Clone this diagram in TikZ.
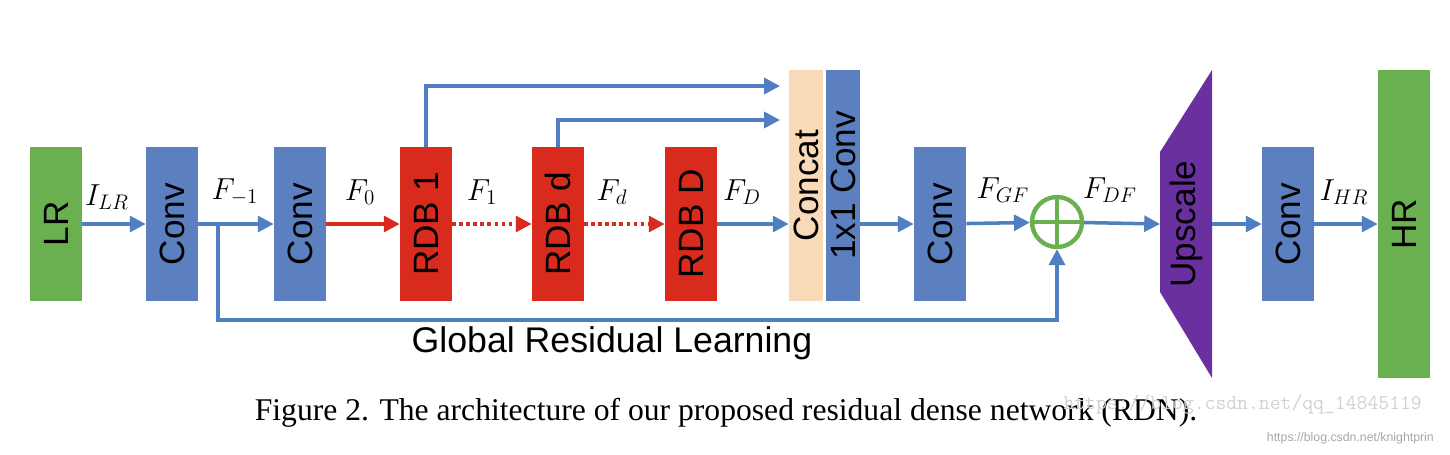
\documentclass[tikz,border=0pt]{standalone}
\usepackage{fontspec}
\setmainfont{Liberation Serif}
\newfontfamily\sansf{Liberation Sans}
\usetikzlibrary{arrows.meta}
\definecolor{cblue}{HTML}{5B7FBF}
\definecolor{cgreen}{HTML}{6AAF50}
\definecolor{cred}{HTML}{D92A1E}
\definecolor{cbeige}{HTML}{F8D9B8}
\definecolor{cpurple}{HTML}{6B30A0}
\definecolor{arr}{HTML}{4F7FC0}
\begin{document}
\begin{tikzpicture}[x=0.02cm,y=-0.02cm,
 blk/.style={draw=none,minimum width=1.04cm,minimum height=3.08cm,inner sep=0pt,font=\sansf\fontsize{20}{21}\selectfont},
 con/.style={arr,line width=2pt,-{Triangle[length=9pt,width=9pt]}},
 redc/.style={cred,line width=2pt,-{Triangle[length=9pt,width=9pt]}},
 lab/.style={font=\fontsize{18.5}{19}\selectfont}]
\useasboundingbox (0,0) rectangle (1450,454);
\node[blk,fill=cgreen] (lr) at (56,224) {\rotatebox{90}{LR}};
\node[blk,fill=cblue] (c1) at (172,224) {\rotatebox{90}{Conv}};
\node[blk,fill=cblue] (c2) at (300,224) {\rotatebox{90}{Conv}};
\node[blk,fill=cred] (r1) at (426,224) {\rotatebox{90}{RDB 1}};
\node[blk,fill=cred] (rd) at (558,224) {\rotatebox{90}{RDB d}};
\node[blk,fill=cred] (rD) at (691,224) {\rotatebox{90}{RDB D}};
\node[blk,fill=cbeige,minimum width=0.68cm,minimum height=4.62cm] (cat) at (806,185.5) {\rotatebox{90}{Concat}};
\node[blk,fill=cblue,minimum width=0.68cm,minimum height=4.62cm] (c11) at (843,185.5) {\rotatebox{90}{1x1 Conv}};
\node[blk,fill=cblue] (c3) at (940,224) {\rotatebox{90}{Conv}};
\node[circle,draw=cgreen,line width=2.5pt,minimum size=1.0cm,inner sep=0pt] (plus) at (1057,222) {};
\draw[cgreen,line width=2.5pt] (plus.north)--(plus.south) (plus.west)--(plus.east);
\fill[cpurple] (1160,152)--(1212,70)--(1212,378)--(1160,292)--cycle;
\node[font=\sansf\fontsize{20}{21}\selectfont,inner sep=0pt] (up) at (1186,224) {\rotatebox{90}{Upscale}};
\coordinate (upL) at (1160,224); \coordinate (upR) at (1212,224);
\node[blk,fill=cblue] (c4) at (1288,224) {\rotatebox{90}{Conv}};
\node[blk,fill=cgreen,minimum height=6.16cm] (hr) at (1404,224) {\rotatebox{90}{HR}};
\draw[con] (lr) -- (c1);
\draw[con] (c1) -- (c2);
\draw[redc] (c2) -- (r1);
\draw[redc,dotted] (r1) -- (rd);
\draw[redc,dotted] (rd) -- (rD);
\draw[con] (rD.east) -- (cat.west|-rD.east);
\draw[con] (c11.east|-c3.west) -- (c3.west);
\draw[con] (c3) -- (plus);
\draw[con] (plus) -- (upL);
\draw[con] (upR) -- (c4);
\draw[con] (c4) -- (hr);
\draw[con] (r1.north) -- (426,86) -- (780,86);
\draw[con] (rd.north) -- (558,120) -- (780,120);
\coordinate (g) at (218,224);
\draw[con] (g) -- (218,320) -- (plus.south|-0,320) -- (plus.south);
\node[lab] (l1) at (107,197) {$I_{LR}$};
\node[lab] (l2) at (235,192) {$F_{-1}$};
\node[lab] (l3) at (360,192) {$F_0$};
\node[lab] (l4) at (482,192) {$F_1$};
\node[lab] (l5) at (612,192) {$F_d$};
\node[lab] (l6) at (742,192) {$F_D$};
\node[lab] (l7) at (1003,190) {$F_{GF}$};
\node[lab] (l8) at (1110,190) {$F_{DF}$};
\node[lab] (l9) at (1344,192) {$I_{HR}$};
\node[font=\sansf\fontsize{20.3}{21}\selectfont] (grl) at (612,343) {Global Residual Learning};
\node[font=\fontsize{18}{19}\selectfont] (cap) at (726,413) {Figure 2. The architecture of our proposed residual dense network (RDN).};
\node[font=\ttfamily\fontsize{12}{12}\selectfont,text=black!18,anchor=east] (wm) at (1428,405) {https://blog.csdn.net/qq\_14845119};
\node[font=\sansf\fontsize{7}{8}\selectfont,text=black!35,anchor=east] (wm2) at (1440,438) {https://blog.csdn.net/knightprin};
\end{tikzpicture}
\end{document}
